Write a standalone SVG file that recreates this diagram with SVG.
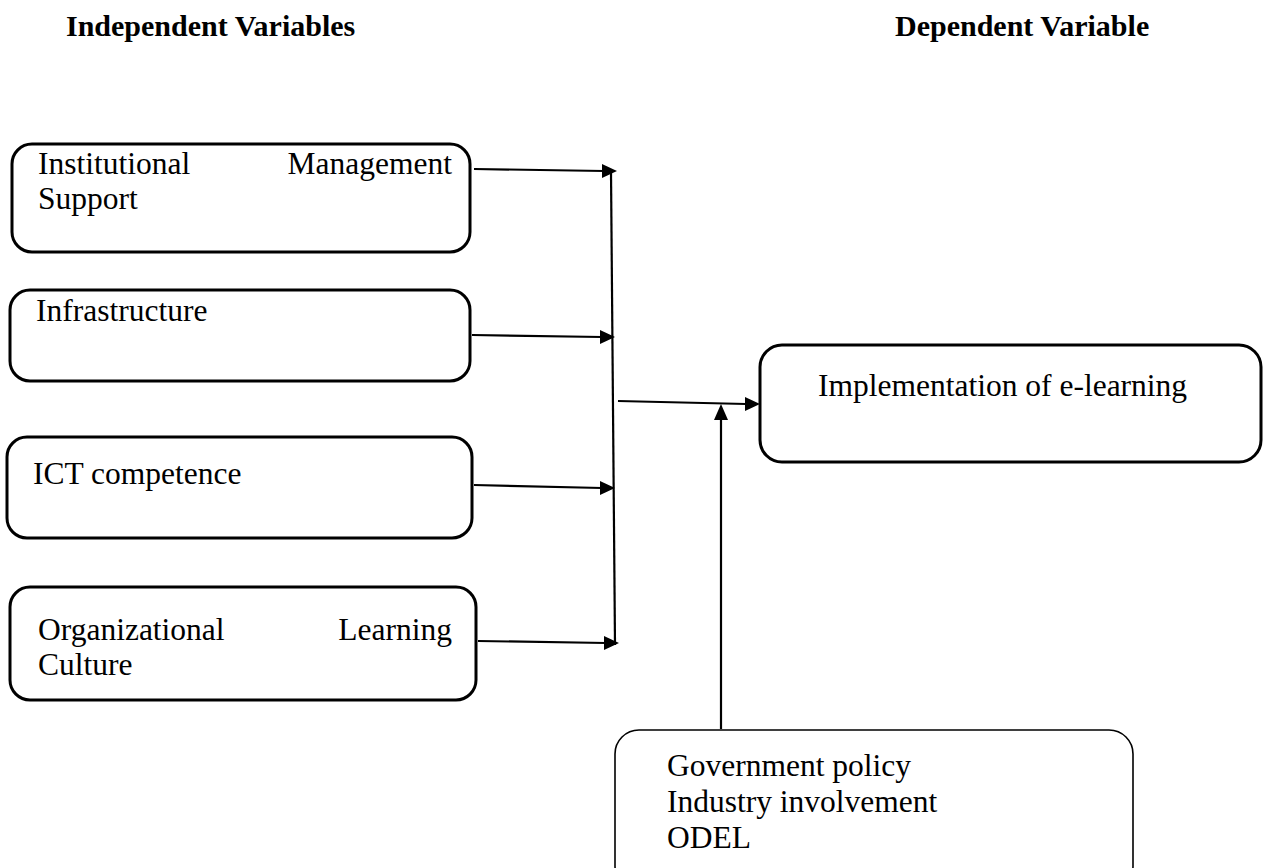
<svg xmlns="http://www.w3.org/2000/svg" width="1265" height="868" viewBox="0 0 1265 868">
  <style>
    .heading { font-family: "Liberation Serif", "Times New Roman", serif; font-weight: bold; font-size: 30px; fill: #000; }
    .label { font-family: "Liberation Serif", "Times New Roman", serif; font-size: 31.5px; fill: #000; }
    .box { fill: #fff; stroke: #000; stroke-width: 3; }
    .box-thin { fill: #fff; stroke: #000; stroke-width: 1.6; }
    .wire { fill: none; stroke: #000; stroke-width: 2.2; }
    .head { fill: #000; }
  </style>
  <rect width="1265" height="868" fill="#fff"/>

  <!-- column headings -->
  <text class="heading" x="66" y="36">Independent Variables</text>
  <text class="heading" x="895" y="36">Dependent Variable</text>

  <!-- connectors: four inputs joined by a vertical bus, then on to the outcome -->
  <g id="connectors">
    <line class="wire" x1="611" y1="172" x2="615" y2="645"/>
    <line class="wire" x1="474" y1="169" x2="604" y2="171"/>
    <path class="head" d="M617,171 L602,164 L602,178 Z"/>
    <line class="wire" x1="472" y1="335" x2="602" y2="337"/>
    <path class="head" d="M615,337 L600,330 L600,344 Z"/>
    <line class="wire" x1="474" y1="485" x2="602" y2="488"/>
    <path class="head" d="M615,488 L600,481 L600,495 Z"/>
    <line class="wire" x1="478" y1="641" x2="606" y2="643"/>
    <path class="head" d="M619,643 L604,636 L604,650 Z"/>
    <line class="wire" x1="618" y1="401" x2="746" y2="404"/>
    <path class="head" d="M760,404 L745,397 L745,411 Z"/>
    <line class="wire" x1="721" y1="729" x2="721" y2="418"/>
    <path class="head" d="M721,404 L714,420 L728,420 Z"/>
  </g>

  <!-- independent variables -->
  <g id="node-management">
    <rect class="box" x="12" y="144" width="458" height="108" rx="20"/>
    <text class="label" x="38" y="174">Institutional</text>
    <text class="label" x="452" y="174" text-anchor="end">Management</text>
    <text class="label" x="38" y="209">Support</text>
  </g>
  <g id="node-infrastructure">
    <rect class="box" x="10" y="290" width="460" height="91" rx="20"/>
    <text class="label" x="36" y="321">Infrastructure</text>
  </g>
  <g id="node-ict">
    <rect class="box" x="7" y="437" width="465" height="101" rx="20"/>
    <text class="label" x="33" y="484">ICT competence</text>
  </g>
  <g id="node-culture">
    <rect class="box" x="10" y="587" width="466" height="113" rx="20"/>
    <text class="label" x="38" y="640">Organizational</text>
    <text class="label" x="452" y="640" text-anchor="end">Learning</text>
    <text class="label" x="38" y="675">Culture</text>
  </g>

  <!-- dependent variable -->
  <g id="node-implementation">
    <rect class="box" x="760" y="345" width="501" height="117" rx="22"/>
    <text class="label" x="818" y="396">Implementation of e-learning</text>
  </g>

  <!-- moderating factors -->
  <g id="node-moderators">
    <rect class="box-thin" x="615" y="730" width="518" height="160" rx="24"/>
    <text class="label" x="667" y="776">Government policy</text>
    <text class="label" x="667" y="812">Industry involvement</text>
    <text class="label" x="667" y="848">ODEL</text>
  </g>
</svg>
